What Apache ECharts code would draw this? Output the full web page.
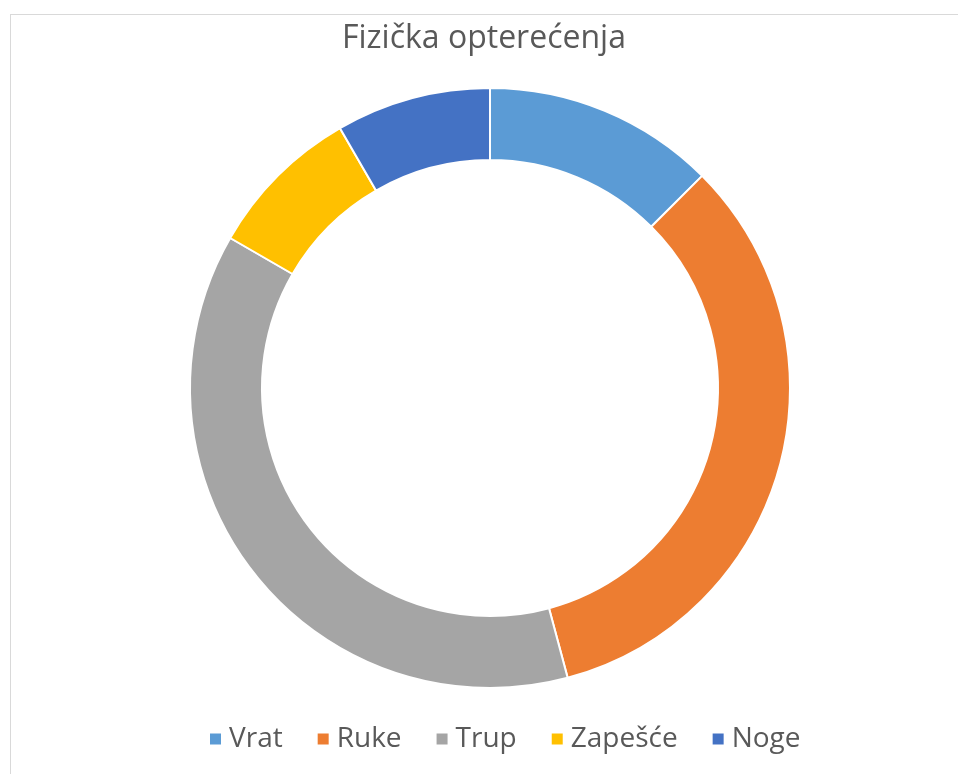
<!DOCTYPE html>
<html><head><meta charset="utf-8">
<script src="https://cdn.jsdelivr.net/npm/echarts@6/dist/echarts.min.js"></script>
<style>
html,body{margin:0;padding:0;background:#fff;}
#frame{position:absolute;left:10px;top:14px;width:960px;height:770px;border-top:1px solid #d9d9d9;border-left:1px solid #d9d9d9;}
#c{position:absolute;left:0;top:0;width:958px;height:774px;}
</style></head>
<body>
<div id="frame"></div>
<div id="c"></div>
<script>
const categories = ['Vrat', 'Ruke', 'Trup', 'Zapešće', 'Noge'];
const values = [15, 40, 45, 10, 10];
const colors = ['#5B9BD5', '#ED7D31', '#A5A5A5', '#FFC000', '#4472C4'];
const titleText = 'Fizička opterećenja';

const chart = echarts.init(document.getElementById('c'), null, {renderer: 'canvas'});
chart.setOption({
  animation: false,
  color: colors,
  title: {
    text: titleText, left: 337, top: 18,
    textStyle: {fontFamily: 'Open Sans', fontSize: 32, fontWeight: 'normal', color: '#595959'}
  },
  legend: {
    data: categories, top: 720, left: 203,
    icon: 'rect', itemWidth: 13, itemHeight: 13, itemGap: 33,
    textStyle: {fontFamily: 'Open Sans', fontSize: 28, color: '#595959', padding: [0,0,0,2]}
  },
  series: [{
    type: 'pie',
    center: [490, 388],
    radius: [228, 300],
    startAngle: 90,
    clockwise: true,
    label: {show: false},
    labelLine: {show: false},
    itemStyle: {borderColor: '#fff', borderWidth: 2},
    data: categories.map((n, i) => ({name: n, value: values[i]}))
  }]
});
</script>
</body></html>
